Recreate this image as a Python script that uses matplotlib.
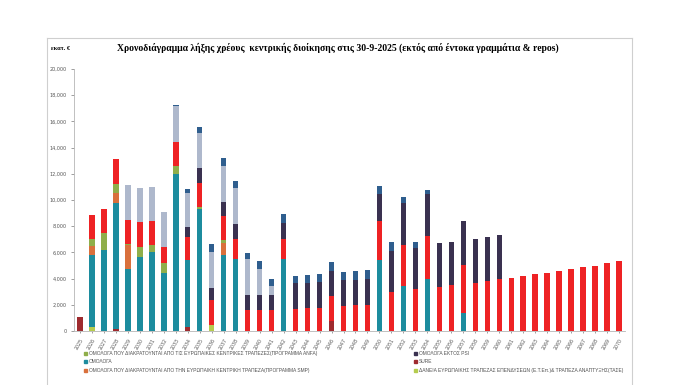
import matplotlib

matplotlib.use("Agg")
import matplotlib.pyplot as plt
from matplotlib.lines import Line2D
from matplotlib.patches import Patch
from matplotlib.ticker import FuncFormatter

# Data (εκατ. €), years 2025-2070
years = list(range(2025, 2071))

sure = [1050, 0, 0, 180, 0, 0, 0, 0, 0, 300,
        0, 0, 0, 0, 0, 0, 0, 0, 0, 0,
        0, 800, 0, 0, 0, 0, 0, 0, 0, 0,
        0, 0, 0, 0, 0, 0, 0, 0, 0, 0,
        0, 0, 0, 0, 0, 0]
eib = [0, 300, 0, 0, 0, 0, 0, 0, 0, 0,
       0, 430, 0, 0, 0, 0, 0, 0, 0, 0,
       0, 0, 0, 0, 0, 0, 0, 0, 0, 0,
       0, 0, 0, 0, 0, 0, 0, 0, 0, 0,
       0, 0, 0, 0, 0, 0]
bonds = [0, 5480, 6170, 9610, 4770, 5660, 6040, 4390, 11990, 5100,
         9280, 0, 5790, 5500, 0, 0, 0, 5460, 0, 0,
         0, 0, 0, 0, 0, 5385, 0, 3400, 0, 3960,
         0, 0, 1400, 0, 0, 0, 0, 0, 0, 0,
         0, 0, 0, 0, 0, 0]
smp = [0, 690, 0, 765, 1785, 0, 0, 0, 0, 0,
       0, 0, 890, 0, 0, 0, 0, 0, 0, 0,
       0, 0, 0, 0, 0, 0, 0, 0, 0, 0,
       0, 0, 0, 0, 0, 0, 0, 0, 0, 0,
       0, 0, 0, 0, 0, 0]
anfa = [0, 590, 1330, 660, 80, 765, 510, 815, 640, 0,
        200, 0, 255, 0, 0, 0, 0, 0, 0, 0,
        0, 0, 0, 0, 0, 0, 0, 0, 0, 0,
        0, 0, 0, 0, 0, 0, 0, 0, 0, 0,
        0, 0, 0, 0, 0, 0]
efsf = [0, 1785, 1810, 1890, 1860, 1910, 1860, 1170, 1830, 1785,
        1785, 1910, 1840, 1500, 1600, 1580, 1580, 1580, 1700, 1780,
        1780, 1900, 1905, 1955, 2000, 3000, 2970, 3175, 3200, 3300,
        3350, 3480, 3660, 3680, 3810, 3950, 4080, 4210, 4340, 4460,
        4590, 4740, 4870, 5000, 5180, 5330]
non_psi = [0, 0, 0, 0, 0, 0, 0, 0, 0, 765,
           1150, 940, 1100, 1200, 1150, 1140, 1140, 1220, 1960, 1880,
           1955, 1905, 1955, 1955, 1980, 2080, 3175, 3175, 3150, 3200,
           3380, 3300, 3330, 3350, 3350, 3390, 0, 0, 0, 0,
           0, 0, 0, 0, 0, 0]
glf = [0, 0, 0, 0, 2650, 2550, 2600, 2730, 2700, 2600,
       2680, 2750, 2730, 2700, 2730, 2030, 690, 0, 0, 0,
       0, 0, 0, 0, 0, 0, 0, 0, 0, 0,
       0, 0, 0, 0, 0, 0, 0, 0, 0, 0,
       0, 0, 0, 0, 0, 0]
cap = [0, 0, 0, 0, 0, 0, 0, 0, 100, 255,
       510, 640, 590, 580, 510, 560, 580, 635, 530, 635,
       585, 685, 635, 635, 685, 585, 635, 510, 430, 330,
       0, 0, 0, 0, 0, 0, 0, 0, 0, 0,
       0, 0, 0, 0, 0, 0]

lbl_anfa = "ΟΜΟΛΟΓΑ ΠΟΥ ΔΙΑΚΡΑΤΟΥΝΤΑΙ ΑΠΟ ΤΙΣ ΕΥΡΩΠΑΙΚΕΣ ΚΕΝΤΡΙΚΕΣ ΤΡΑΠΕΖΕΣ(ΠΡΟΓΡΑΜΜΑ ANFA)"
lbl_bonds = "ΟΜΟΛΟΓΑ"
lbl_smp = "ΟΜΟΛΟΓΑ ΠΟΥ ΔΙΑΚΡΑΤΟΥΝΤΑΙ ΑΠΟ ΤΗΝ ΕΥΡΩΠΑΙΚΗ ΚΕΝΤΡΙΚΗ ΤΡΑΠΕΖΑ(ΠΡΟΓΡΑΜΜΑ SMP)"
lbl_nonpsi = "ΟΜΟΛΟΓΑ ΕΚΤΟΣ PSI"
lbl_sure = "SURE"
lbl_eib = "ΔΑΝΕΙΑ ΕΥΡΩΠΑΙΚΗΣ ΤΡΑΠΕΖΑΣ ΕΠΕΝΔΥΣΕΩΝ (Ε.Τ.Επ.)& ΤΡΑΠΕΖΑ ΑΝΑΠΤΥΞΗΣ(ΤΑΣΕ)"

# stacking order, bottom to top
stack = [
    (sure, "#9E2A2E"),
    (eib, "#B5CC4E"),
    (bonds, "#1C8C9E"),
    (smp, "#D9703C"),
    (anfa, "#8FAE4A"),
    (efsf, "#EE2224"),
    (non_psi, "#3A3150"),
    (glf, "#AEB8CC"),
    (cap, "#2F5E8E"),
]

W, H = 696, 385
fig = plt.figure(figsize=(W / 100, H / 100), dpi=100)
ax = fig.add_axes([74 / W, 1 - 331 / H, (625 - 74) / W, (331 - 69) / H])

x = list(range(len(years)))
bottom = [0] * len(years)
for vals, col in stack:
    ax.bar(x, vals, bottom=bottom, width=0.45, color=col, edgecolor="none")
    bottom = [b + v for b, v in zip(bottom, vals)]

ax.set_xlim(-0.5, len(years) - 0.5)
ax.set_ylim(0, 20000)
ax.set_yticks(range(0, 20001, 2000))
ax.yaxis.set_major_formatter(FuncFormatter(lambda v, p: f"{int(v):,}"))
ax.set_xticks(x)
ax.set_xticklabels([str(y) for y in years], rotation=60, ha="right",
                   rotation_mode="anchor")
ax.tick_params(axis="y", labelsize=3.5, colors="#555555", length=2, width=0.4)
ax.tick_params(axis="x", labelsize=3.4, colors="#555555", length=1.5, width=0.4)
for s in ["top", "right"]:
    ax.spines[s].set_visible(False)
for s in ["left", "bottom"]:
    ax.spines[s].set_color("#b5b5b5")
    ax.spines[s].set_linewidth(0.6)

# outer frame (cut at the bottom)
fc = "#cfcfcf"
fig.add_artist(Line2D([47 / W, 632 / W], [1 - 38 / H, 1 - 38 / H], color=fc, lw=0.8))
fig.add_artist(Line2D([47 / W, 47 / W], [0, 1 - 38 / H], color=fc, lw=0.8))
fig.add_artist(Line2D([632 / W, 632 / W], [0, 1 - 38 / H], color=fc, lw=0.8))

fig.text(338 / W, 1 - 48 / H,
         "Χρονοδιάγραμμα λήξης χρέους  κεντρικής διοίκησης στις 30-9-2025 "
         "(εκτός από έντοκα γραμμάτια & repos)",
         ha="center", va="center", fontsize=6.9, fontweight="bold",
         family="Liberation Serif")
fig.text(51 / W, 1 - 48 / H, "εκατ. €", ha="left", va="center", fontsize=4.6,
         fontweight="bold", family="Liberation Serif")

leg_kw = dict(loc="upper left", frameon=False, handlelength=0.6,
              handleheight=0.6, handletextpad=0.4, labelspacing=0.7,
              borderaxespad=0, borderpad=0, labelcolor="#505050",
              prop={"family": "Liberation Sans", "size": 3.5})
h1 = [Patch(color="#8FAE4A", label=lbl_anfa),
      Patch(color="#1C8C9E", label=lbl_bonds),
      Patch(color="#D9703C", label=lbl_smp)]
h2 = [Patch(color="#3A3150", label=lbl_nonpsi),
      Patch(color="#9E2A2E", label=lbl_sure),
      Patch(color="#B5CC4E", label=lbl_eib)]
fig.legend(handles=h1, bbox_to_anchor=(84 / W, 1 - 351 / H), **leg_kw)
fig.legend(handles=h2, bbox_to_anchor=(414 / W, 1 - 351 / H), **leg_kw)

fig.savefig("out.png", dpi=100)
